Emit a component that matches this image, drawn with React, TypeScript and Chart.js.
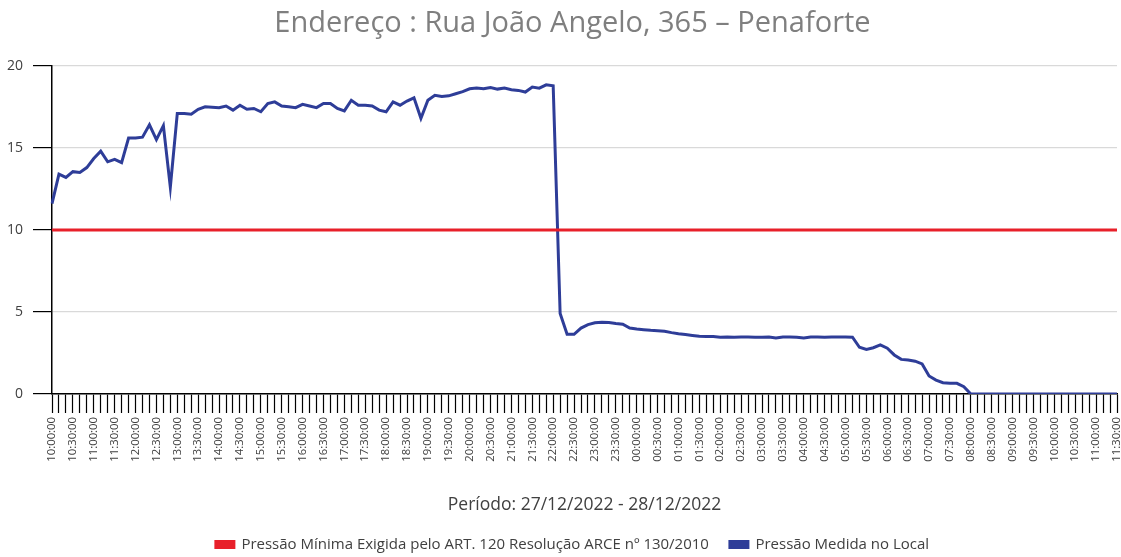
import { useEffect, useRef } from "react";
import { Chart, registerables } from "chart.js";

Chart.register(...registerables);

const titleText = "Endereço : Rua João Angelo, 365 – Penaforte";
const xAxisTitle = "Período: 27/12/2022 - 28/12/2022";
const minLabel = "Pressão Mínima Exigida pelo ART. 120 Resolução ARCE nº 130/2010";
const measuredLabel = "Pressão Medida no Local";

// 10-minute readings from 10:00:00 (27/12) to 11:30:00 (28/12)
const startMinutes = 10 * 60;
const stepMinutes = 10;
const pointCount = 154;
const timeLabels: string[] = [];
for (let i = 0; i < pointCount; i++) {
  const m = (startMinutes + i * stepMinutes) % (24 * 60);
  const hh = String(Math.floor(m / 60)).padStart(2, "0");
  const mm = String(m % 60).padStart(2, "0");
  timeLabels.push(`${hh}:${mm}:00`);
}

const measuredPressure: number[] = [
  11.6, 13.4, 13.2, 13.55, 13.5, 13.8, 14.35, 14.8, 14.15, 14.3,
  14.1, 15.6, 15.6, 15.65, 16.4, 15.5, 16.35, 12.6, 17.1, 17.1,
  17.05, 17.35, 17.5, 17.48, 17.45, 17.55, 17.3, 17.6, 17.35, 17.4,
  17.2, 17.7, 17.8, 17.55, 17.5, 17.45, 17.65, 17.55, 17.45, 17.7,
  17.7, 17.4, 17.25, 17.9, 17.6, 17.6, 17.55, 17.3, 17.2, 17.8,
  17.6, 17.85, 18.05, 16.8, 17.9, 18.2, 18.13, 18.17, 18.3, 18.43,
  18.6, 18.64, 18.6, 18.68, 18.58, 18.64, 18.54, 18.5, 18.4, 18.7,
  18.64, 18.84, 18.78, 4.9, 3.64, 3.64, 4.02, 4.23, 4.34, 4.37,
  4.36, 4.3, 4.25, 4.02, 3.96, 3.92, 3.88, 3.85, 3.82, 3.74,
  3.67, 3.62, 3.57, 3.52, 3.5, 3.5, 3.46, 3.47, 3.46, 3.47,
  3.47, 3.46, 3.46, 3.47, 3.42, 3.48, 3.47, 3.46, 3.42, 3.47,
  3.47, 3.46, 3.47, 3.47, 3.47, 3.46, 2.85, 2.72, 2.82, 2.99,
  2.79, 2.38, 2.11, 2.07, 2.0, 1.83, 1.1, 0.85, 0.69, 0.65,
  0.65, 0.45, 0, 0, 0, 0, 0, 0, 0, 0,
  0, 0, 0, 0, 0, 0, 0, 0, 0, 0,
  0, 0, 0, 0,
];

const minimumPressure: number[] = timeLabels.map(() => 10);

const yTicks = { min: 0, max: 20, step: 5 };

const FONT = "'Open Sans', sans-serif";

export default function App() {
  const canvasRef = useRef<HTMLCanvasElement | null>(null);

  useEffect(() => {
    const canvas = canvasRef.current;
    if (!canvas) return;
    const chart = new Chart(canvas, {
      type: "line",
      data: {
        labels: timeLabels,
        datasets: [
          {
            label: minLabel,
            data: minimumPressure,
            borderColor: "#e8202a",
            backgroundColor: "#e8202a",
            borderWidth: 3,
            pointRadius: 0,
            tension: 0,
          },
          {
            label: measuredLabel,
            data: measuredPressure,
            borderColor: "#2e3d98",
            backgroundColor: "#2e3d98",
            borderWidth: 3,
            pointRadius: 0,
            tension: 0,
          },
        ],
      },
      options: {
        responsive: true,
        maintainAspectRatio: false,
        animation: false,
        layout: { padding: { left: 0, right: 0, top: 0, bottom: 4 } },
        plugins: {
          title: {
            display: true,
            text: titleText,
            color: "#7f7f7f",
            font: { family: FONT, size: 29, weight: "normal" },
            padding: { top: 6, bottom: 25 },
          },
          legend: {
            position: "bottom",
            labels: {
              color: "#404040",
              font: { family: FONT, size: 15 },
              boxWidth: 18,
              boxHeight: 6,
              padding: 21,
            },
          },
          tooltip: { enabled: false },
        },
        scales: {
          x: {
            type: "category",
            offset: false,
            afterFit: (scale: any) => {
              scale.paddingLeft = 0;
              scale.paddingRight = 28;
              scale.height = 122;
            },
            grid: {
              drawOnChartArea: false,
              drawTicks: true,
              tickLength: 19,
              tickColor: "#000000",
              tickWidth: 1.2,
            },
            border: { color: "#000000", width: 1.5 },
            ticks: {
              autoSkip: false,
              maxRotation: 90,
              minRotation: 90,
              padding: 4,
              color: "#404040",
              font: { family: FONT, size: 11.3 },
              callback: (_v: any, index: number) => (index % 3 === 0 ? timeLabels[index] : ""),
            },
            title: {
              display: true,
              text: xAxisTitle,
              color: "#404040",
              font: { family: FONT, size: 17.5 },
              padding: { top: 10, bottom: 0 },
            },
          },
          y: {
            min: yTicks.min,
            max: yTicks.max,
            afterFit: (scale: any) => {
              scale.width = 52;
            },
            grid: {
              color: "#d9d9d9",
              lineWidth: 1.2,
              tickColor: "#000000",
              tickLength: 19,
            },
            border: { color: "#000000", width: 1.5 },
            ticks: {
              stepSize: yTicks.step,
              padding: 10,
              color: "#404040",
              font: { family: FONT, size: 14 },
            },
          },
        },
      },
    });
    return () => chart.destroy();
  }, []);

  return (
    <div style={{ position: "fixed", left: 0, top: 0, width: 1145, height: 566, background: "#fff" }}>
      <canvas ref={canvasRef} />
    </div>
  );
}
